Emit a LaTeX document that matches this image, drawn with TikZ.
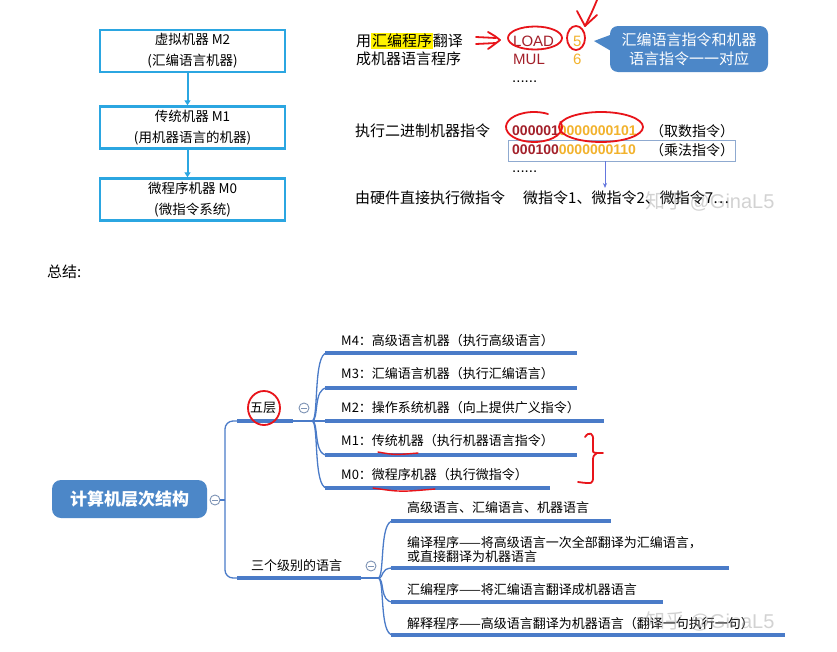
\documentclass[tikz,border=0pt]{standalone}
\usepackage{fontspec}
\setmainfont{Noto Sans CJK SC}
\newfontfamily\latf{Liberation Sans}
\usetikzlibrary{arrows.meta}
\definecolor{boxblue}{HTML}{2BA6E1}
\definecolor{dred}{HTML}{A3202A}
\definecolor{orng}{HTML}{F2B22C}
\definecolor{cblue}{HTML}{4C87C8}
\definecolor{mblue}{HTML}{4A7BC8}
\definecolor{annot}{HTML}{E8141A}
\definecolor{thinb}{HTML}{8FAAD0}
\definecolor{btngray}{HTML}{7D93B5}
\newcommand\szA{\fontsize{15}{19}\selectfont}
\newcommand\szB{\fontsize{13.5}{21}\selectfont}
\newcommand\szC{\fontsize{13}{14}\selectfont}
\newcommand\szD{\fontsize{14}{17}\selectfont}
\setlength{\fboxsep}{0.8pt}
\begin{document}
\begin{tikzpicture}[x=1pt,y=-1pt,
  tlbox/.style={draw=boxblue, line width=2.4pt, minimum width=185pt, minimum height=42pt, align=center, inner sep=0pt, font=\szB},
  tlarrow/.style={draw=boxblue, line width=2pt, -{Triangle[length=5pt,width=6pt]}},
  txt/.style={anchor=west, inner sep=0pt, font=\szA},
  dots/.style={anchor=base west, inner sep=0pt, font=\latf\szA},
  annotl/.style={draw=annot, line width=1.8pt, line cap=round, line join=round},
  conn/.style={draw=mblue, line width=1.3pt},
  uline/.style={draw=mblue, line width=3.8pt},
  mtxt/.style={anchor=west, inner sep=0pt, font=\szC},
  cbtn/.style={circle, draw=btngray, line width=0.9pt, fill=white, minimum size=10pt, inner sep=0pt,
    path picture={\draw[btngray, line width=0.9pt] ([xshift=-2.6pt]path picture bounding box.center) -- ([xshift=2.6pt]path picture bounding box.center);}},
  wm/.style={anchor=west, inner sep=0pt, text=gray, opacity=0.35, font=\fontsize{20}{20}\selectfont}
]
\fill[white] (0,0) rectangle (837,651);
\useasboundingbox (0,0) rectangle (837,651);

% ---------- top-left boxes ----------
\node[tlbox] (b1) at (192.5,51) {虚拟机器 M2\\(汇编语言机器)};
\node[tlbox] (b2) at (192.5,127.5) {传统机器 M1\\(用机器语言的机器)};
\node[tlbox] (b3) at (192.5,199.5) {微程序机器 M0\\(微指令系统)};
\draw[tlarrow] ([xshift=-5pt]b1.south) -- ([xshift=-5pt]b2.north);
\draw[tlarrow] ([xshift=-5pt]b2.south) -- ([xshift=-5pt]b3.north);

% ---------- top-right ----------
\node[txt] (t1) at (356,41) {用\colorbox{yellow}{汇编程序}翻译};
\node[txt] (t2) at (356,59) {成机器语言程序};
\node[txt, text=dred, font=\latf\szA] (load) at (513,41) {LOAD};
\node[txt, text=dred, font=\latf\szA] (mul) at (513,59) {MUL};
\node[txt, text=orng, font=\latf\szA] (n5) at (573,41) {5};
\node[txt, text=orng, font=\latf\szA] (n6) at (573,59) {6};
\node[dots] (dots1) at (512,82) {......};

\node[fill=cblue, rounded corners=8pt, minimum width=158pt, minimum height=46pt, text=white, align=center, font=\szA, inner sep=0pt] (co) at (689,49) {汇编语言指令和机器\\语言指令一一对应};
\fill[cblue] ([xshift=3pt,yshift=15pt]co.west) -- (594,41) -- ([xshift=3pt,yshift=-3pt]co.west) -- cycle;

\node[txt] (exe) at (355,131) {执行二进制机器指令};
\node[txt, font=\latf\bfseries\szD] (bin1) at (512,131) {\textcolor{dred}{000001}\textcolor{orng}{0000000101}};
\node[txt, font=\szD] (q1) at (650,131) {（取数指令）};
\node[draw=thinb, line width=0.8pt, minimum width=227pt, minimum height=21pt, inner sep=0pt] (bbox) at (621.5,150.5) {};
\node[txt, font=\latf\bfseries\szD] (bin2) at (512,150) {\textcolor{dred}{000100}\textcolor{orng}{0000000110}};
\node[txt, font=\szD] (q2) at (650,150) {（乘法指令）};
\node[dots] (dots2) at (512,172) {......};
\node[txt] (hw) at (355,198) {由硬件直接执行微指令};
\node[txt] (mi) at (523,198) {微指令1、微指令2、微指令7…};
\coordinate (mt) at (605,188);
\draw[draw=thinb!70!blue, line width=0.8pt, -{Stealth[length=5pt,width=4pt]}] (bbox.south -| mt) -- (mt);
\node[wm] (wm1) at (645,201) {知乎 {\latf @GinaL5}};

% red annotations (top)
\draw[annotl] (476,37) -- (496,38);
\draw[annotl] (476,44) -- (496,43);
\draw[annotl] (488,32) .. controls (495,36) .. (500,40) .. controls (495,44) .. (488,49);
\draw[annotl] (535,38) ellipse [x radius=27, y radius=11.5];
\draw[annotl] (576,38) ellipse [x radius=9, y radius=12];
\draw[annotl] (597,0) .. controls (592,12) .. (585,26);
\draw[annotl] (577,11) -- (585,26) -- (597,15);
\draw[annotl] (534,127) ++(-20:28 and 15) arc[start angle=-20, end angle=300, x radius=28, y radius=15];
\draw[annotl] (601,127) ellipse [x radius=42, y radius=15];

% ---------- summary ----------
\node[txt] (sum) at (47,272) {总结:};

% ---------- mind map ----------
\node[fill=cblue, rounded corners=9pt, minimum width=155pt, minimum height=38pt, text=white, font=\fontsize{17}{17}\selectfont\bfseries, inner sep=0pt] (root) at (129.5,499) {计算机层次结构};
\node[cbtn] (c0) at (215,500) {};
\coordinate (sp) at (225,500);
\draw[conn] (c0.east) -- (sp);
\draw[conn, rounded corners=8pt] (sp) |- (237,421);
\draw[conn, rounded corners=8pt] (sp) |- (237,578);

% five layers
\node[mtxt] (five) at (250,408) {五层};
\draw[uline] (237,421) -- (293,421);
\draw[conn] (293,421) -- (312,421);
\node[cbtn] (c1) at (304,408) {};
\coordinate (f1) at (312,421);
\foreach \yy in {353,388,455,488}
  \draw[conn] (f1) .. controls (319,421) and (313,\yy) .. (327,\yy);
\draw[conn] (f1) -- (327,421);
\draw[uline] (325,353) -- (577,353);
\draw[uline] (325,388) -- (577,388);
\draw[uline] (325,421) -- (604,421);
\draw[uline] (325,455) -- (577,455);
\draw[uline] (325,488) -- (550,488);
\node[mtxt] (m4) at (341,341) {M4：高级语言机器（执行高级语言）};
\node[mtxt] (m3) at (341,374) {M3：汇编语言机器（执行汇编语言）};
\node[mtxt] (m2) at (341,408) {M2：操作系统机器（向上提供广义指令）};
\node[mtxt] (m1) at (341,441) {M1：传统机器（执行机器语言指令）};
\node[mtxt] (m0) at (341,475) {M0：微程序机器（执行微指令）};

% three levels
\node[mtxt] (three) at (251,566) {三个级别的语言};
\draw[uline] (237,578) -- (361,578);
\draw[conn] (361,578) -- (378,578);
\node[cbtn] (c2) at (371,566) {};
\coordinate (f2) at (378,578);
\foreach \yy in {521,568,602,635}
  \draw[conn] (f2) .. controls (385,578) and (379,\yy) .. (393,\yy);
\draw[uline] (391,521) -- (611,521);
\draw[uline] (391,568) -- (729,568);
\draw[uline] (391,602) -- (663,602);
\draw[uline] (391,635) -- (785,635);
\node[mtxt] (l1) at (407,508) {高级语言、汇编语言、机器语言};
\node[mtxt] (l2) at (407,543) {编译程序——将高级语言一次全部翻译为汇编语言，};
\node[mtxt] (l3) at (407,557) {或直接翻译为机器语言};
\node[mtxt] (l4) at (407,590) {汇编程序——将汇编语言翻译成机器语言};
\node[mtxt] (l5) at (407,624) {解释程序——高级语言翻译为机器语言（翻译一句执行一句）};
\node[wm] (wm2) at (645,621) {知乎 {\latf @GinaL5}};

% red annotations (mind map)
\draw[annotl] (264,408) ellipse [x radius=16, y radius=17];
\draw[annotl, line width=1.4pt] (378,452) .. controls (395,455) .. (418,453);
\draw[annotl, line width=1.4pt] (373,488) .. controls (400,492) .. (435,489);
\draw[annotl] (585,437) .. controls (589,431) and (594,433) .. (593,441) -- (593,450) .. controls (593,453) .. (603,453);
\draw[annotl] (597,453) .. controls (593,456) .. (593,462) -- (593,476) .. controls (593,484) .. (578,482);
\end{tikzpicture}
\end{document}
